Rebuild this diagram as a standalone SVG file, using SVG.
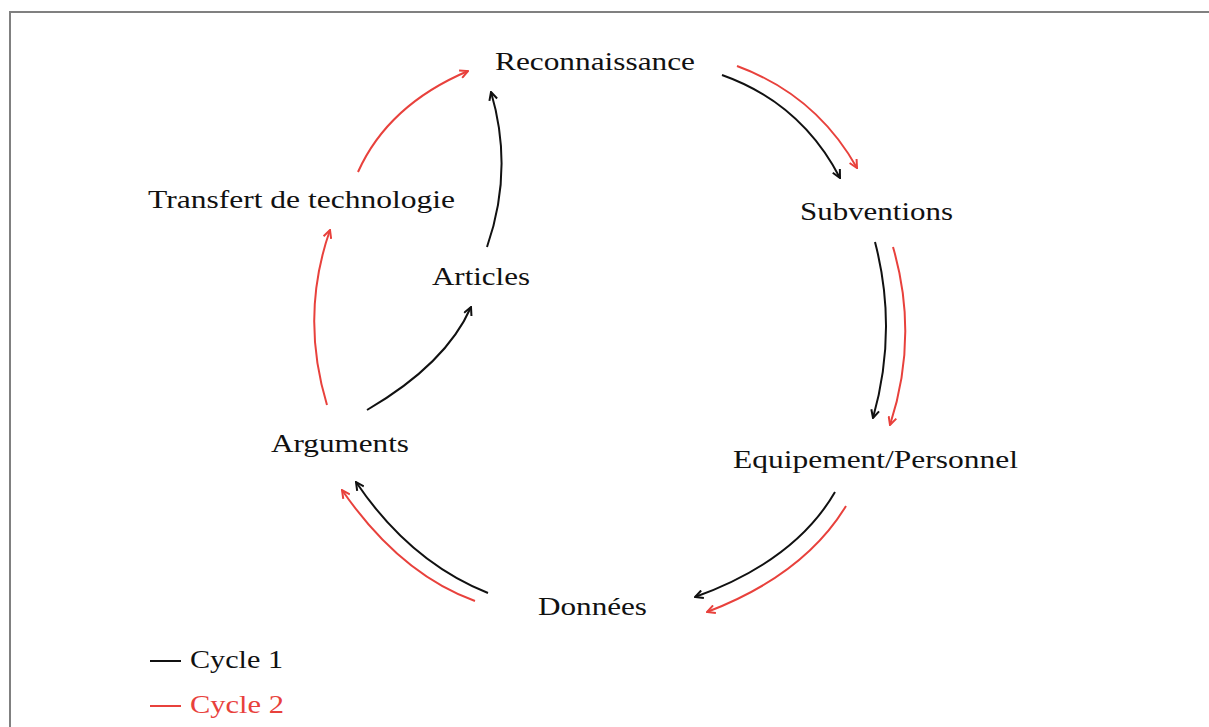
<svg xmlns="http://www.w3.org/2000/svg" width="1209" height="727" viewBox="0 0 1209 727">
<style>
.lbl{font-family:"Liberation Serif","Times New Roman",serif;font-size:26px;fill:#111}
.c1{fill:none;stroke:#111;stroke-width:2}
.c2{fill:none;stroke:#e8413c;stroke-width:2}
.red{fill:#e8413c}
</style>
<defs>
<marker id="ah1" viewBox="0 0 10 10" refX="9" refY="5" markerWidth="10" markerHeight="10" markerUnits="userSpaceOnUse" orient="auto">
<path d="M1,1 L9,5 L1,9" fill="none" stroke="#111" stroke-width="2"/>
</marker>
<marker id="ah2" viewBox="0 0 10 10" refX="9" refY="5" markerWidth="10" markerHeight="10" markerUnits="userSpaceOnUse" orient="auto">
<path d="M1,1 L9,5 L1,9" fill="none" stroke="#e8413c" stroke-width="2"/>
</marker>
</defs>
<rect width="1209" height="727" fill="#fff"/>
<path d="M10,727 L10,12 L1209,12" fill="none" stroke="#808080" stroke-width="2"/>
<g id="connectors">
<path class="c1" marker-end="url(#ah1)" d="M722,75 Q801,103 840,178"/>
<path class="c2" marker-end="url(#ah2)" d="M737,66 Q816,95 857,168"/>
<path class="c1" marker-end="url(#ah1)" d="M875,242 Q898,330 873,418"/>
<path class="c2" marker-end="url(#ah2)" d="M893,247 Q919,336 890,425"/>
<path class="c1" marker-end="url(#ah1)" d="M835,492 Q795,561 695,597"/>
<path class="c2" marker-end="url(#ah2)" d="M846,506 Q804,575 707,612"/>
<path class="c1" marker-end="url(#ah1)" d="M488,593 Q410,562 356,482"/>
<path class="c2" marker-end="url(#ah2)" d="M475,601 Q400,574 342,490"/>
<path class="c1" marker-end="url(#ah1)" d="M367,410 Q446,364 471,307"/>
<path class="c1" marker-end="url(#ah1)" d="M487,247 Q514,170 491,92"/>
<path class="c2" marker-end="url(#ah2)" d="M327,405 Q300,316 330,230"/>
<path class="c2" marker-end="url(#ah2)" d="M358,172 Q388,105 468,71"/>
</g>
<g id="n-reconnaissance"><text class="lbl" x="495" y="70" textLength="200" lengthAdjust="spacingAndGlyphs">Reconnaissance</text></g>
<g id="n-subventions"><text class="lbl" x="800" y="220" textLength="153" lengthAdjust="spacingAndGlyphs">Subventions</text></g>
<g id="n-equipement"><text class="lbl" x="733" y="468" textLength="285" lengthAdjust="spacingAndGlyphs">Equipement/Personnel</text></g>
<g id="n-donnees"><text class="lbl" x="538" y="615" textLength="109" lengthAdjust="spacingAndGlyphs">Données</text></g>
<g id="n-arguments"><text class="lbl" x="271" y="452" textLength="138" lengthAdjust="spacingAndGlyphs">Arguments</text></g>
<g id="n-articles"><text class="lbl" x="432" y="285" textLength="98" lengthAdjust="spacingAndGlyphs">Articles</text></g>
<g id="n-transfert"><text class="lbl" x="148" y="208" textLength="307" lengthAdjust="spacingAndGlyphs">Transfert de technologie</text></g>
<g id="legend">
<line x1="150" y1="661" x2="181" y2="661" stroke="#111" stroke-width="2"/>
<text class="lbl" x="190" y="668" textLength="93" lengthAdjust="spacingAndGlyphs">Cycle 1</text>
<line x1="150" y1="706" x2="181" y2="706" stroke="#e8413c" stroke-width="2"/>
<text class="lbl red" x="190" y="713" textLength="94" lengthAdjust="spacingAndGlyphs">Cycle 2</text>
</g>
</svg>
